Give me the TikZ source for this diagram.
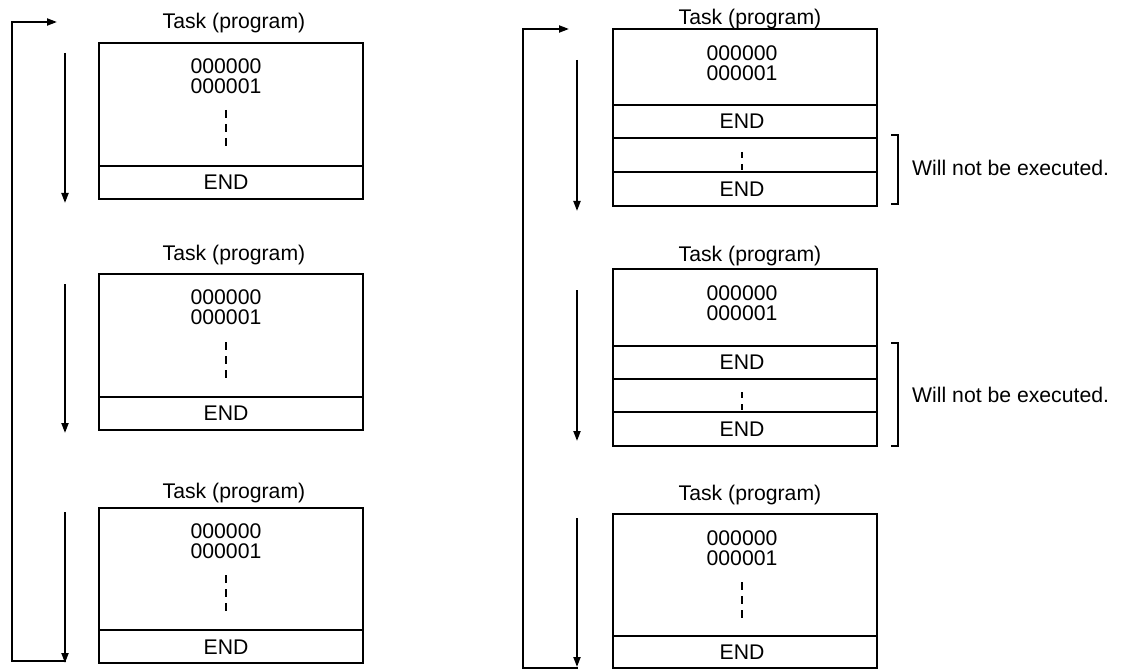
\documentclass[tikz,border=0pt]{standalone}
\usepackage{fontspec}
\setmainfont{Liberation Sans}
\usetikzlibrary{arrows.meta}
\begin{document}
\begin{tikzpicture}[x=1pt,y=-1pt,
  box/.style={draw, line width=2.6pt, minimum width=264pt, anchor=north west, inner sep=0pt, outer sep=0pt},
  sep/.style={line width=2.6pt},
  thinsep/.style={line width=1.8pt},
  txt/.style={font=\fontsize{21.2}{24}\selectfont, inner sep=0pt},
  flow/.style={line width=2pt, -{Triangle[length=10pt,width=7pt]}},
  dots/.style={line width=1.2pt, dash pattern=on 8pt off 6pt},
  dotsshort/.style={line width=1.1pt, dash pattern=on 6pt off 6pt},
  brk/.style={line width=2.2pt}]
\useasboundingbox (0,0) rectangle (1129,671);

% ---------------- left column ----------------
\node[box, minimum height=156pt] (L1) at (99,43) {};
\node[box, minimum height=156pt] (L2) at (99,274) {};
\node[box, minimum height=155pt] (L3) at (99,508) {};
\foreach \b in {L1,L2,L3}{
  \draw[sep] ([yshift=33pt]\b.south west) -- ([yshift=33pt]\b.south east);
}
\node[txt, anchor=base] (L1t) at (234,29) {Task (program)};
\node[txt, anchor=base] (L2t) at (234,260) {Task (program)};
\node[txt, anchor=base] (L3t) at (234,498) {Task (program)};

\node[txt] (L1a) at (226,66.5) {000000};
\node[txt] (L1b) at (226,86.5) {000001};
\draw[dots] (226,110) -- (226,147);
\node[txt] (L1e) at (226,182.5) {END};

\node[txt] (L2a) at (226,297.5) {000000};
\node[txt] (L2b) at (226,317.5) {000001};
\draw[dots] (226,342) -- (226,379);
\node[txt] (L2e) at (226,413.5) {END};

\node[txt] (L3a) at (226,531.5) {000000};
\node[txt] (L3b) at (226,551.5) {000001};
\draw[dots] (226,575) -- (226,612);
\node[txt] (L3e) at (226,647) {END};

\coordinate (la1s) at (65,53);  \coordinate (la1e) at (65,203);
\coordinate (la2s) at (65,284); \coordinate (la2e) at (65,433);
\coordinate (la3s) at (65,512); \coordinate (la3e) at (65,663);
\draw[flow] (la1s) -- (la1e);
\draw[flow] (la2s) -- (la2e);
\draw[flow] (la3s) -- (la3e);
\coordinate (lloopA) at (66,661);
\coordinate (lloopB) at (12,661);
\coordinate (lloopC) at (12,22);
\coordinate (lloopD) at (57,22);
\draw[flow] (lloopA) -- (lloopB) -- (lloopC) -- (lloopD);

% ---------------- right column ----------------
\node[box, minimum height=177pt] (R1) at (613,29) {};
\node[box, minimum height=177pt] (R2) at (613,269) {};
\node[box, minimum height=154pt] (R3) at (613,514) {};

\draw[sep] (R1.west |- 0,105) -- (R1.east |- 0,105);
\draw[thinsep] (R1.west |- 0,138) -- (R1.east |- 0,138);
\draw[sep] (R1.west |- 0,172) -- (R1.east |- 0,172);

\draw[sep] (R2.west |- 0,346) -- (R2.east |- 0,346);
\draw[thinsep] (R2.west |- 0,379) -- (R2.east |- 0,379);
\draw[sep] (R2.west |- 0,412) -- (R2.east |- 0,412);

\draw[sep] ([yshift=32pt]R3.south west) -- ([yshift=32pt]R3.south east);

\node[txt, anchor=base] (R1t) at (750,25) {Task (program)};
\node[txt, anchor=base] (R2t) at (750,261) {Task (program)};
\node[txt, anchor=base] (R3t) at (750,500) {Task (program)};

\node[txt] (R1a) at (742,53) {000000};
\node[txt] (R1b) at (742,73) {000001};
\node[txt] (R1e) at (742,121.5) {END};
\draw[dotsshort] (742,152) -- (742,170);
\node[txt] (R1f) at (742,189) {END};

\node[txt] (R2a) at (742,293) {000000};
\node[txt] (R2b) at (742,313) {000001};
\node[txt] (R2e) at (742,362.5) {END};
\draw[dotsshort] (742,392) -- (742,410);
\node[txt] (R2f) at (742,429) {END};

\node[txt] (R3a) at (742,538) {000000};
\node[txt] (R3b) at (742,558) {000001};
\draw[dots] (742,582) -- (742,619);
\node[txt] (R3e) at (742,652) {END};

\coordinate (ra1s) at (577,60);  \coordinate (ra1e) at (577,211);
\coordinate (ra2s) at (577,290); \coordinate (ra2e) at (577,441);
\coordinate (ra3s) at (577,518); \coordinate (ra3e) at (577,667);
\draw[flow] (ra1s) -- (ra1e);
\draw[flow] (ra2s) -- (ra2e);
\draw[flow] (ra3s) -- (ra3e);
\coordinate (rloopA) at (578,668);
\coordinate (rloopB) at (523,668);
\coordinate (rloopC) at (523,29);
\coordinate (rloopD) at (569,29);
\draw[flow] (rloopA) -- (rloopB) -- (rloopC) -- (rloopD);

% brackets and notes
\draw[brk] (891,135) -- (898,135) -- (898,204) -- (891,204);
\draw[brk] (891,343) -- (898,343) -- (898,446) -- (891,446);
\node[txt, anchor=west] (W1) at (912,168) {Will not be executed.};
\node[txt, anchor=west] (W2) at (912,395) {Will not be executed.};
\end{tikzpicture}
\end{document}
